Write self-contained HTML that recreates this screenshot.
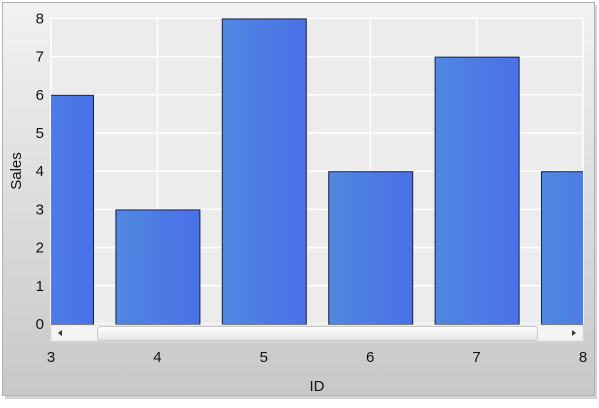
<!DOCTYPE html>
<html><head><meta charset="utf-8"><style>
body{margin:0;width:599px;height:403px;overflow:hidden;background:#fff;font-family:"Liberation Sans",sans-serif}
</style></head><body>
<svg width="599" height="403">
<defs>
<linearGradient id="bg" x1="0" y1="0" x2="0" y2="1"><stop offset="0" stop-color="#f2f2f2"/><stop offset="1" stop-color="#c8c8c8"/></linearGradient>
<linearGradient id="bar" x1="0" y1="0" x2="1" y2="0"><stop offset="0" stop-color="#5088e0"/><stop offset="1" stop-color="#4a70e8"/></linearGradient>
<linearGradient id="thumb" x1="0" y1="0" x2="0" y2="1"><stop offset="0" stop-color="#fff"/><stop offset="1" stop-color="#e4e4e4"/></linearGradient>
<clipPath id="pc"><rect x="51" y="10" width="532" height="315"/></clipPath>
</defs>
<rect x="5" y="5" width="592" height="394" fill="#aaa" opacity="0.5"/>
<rect x="2.5" y="2.5" width="592" height="393" fill="url(#bg)" stroke="#b0b0b0"/>
<rect x="51" y="18" width="532" height="306" fill="#ececec"/>
<g id="grid"></g>
<g id="bars" clip-path="url(#pc)"></g>
<g id="axes"></g>
<g>
<rect x="51" y="325" width="532" height="16" fill="#f4f4f4" stroke="#ddd"/>
<path d="M58 333 l4 -3 v6 z" fill="#333"/>
<path d="M576 333 l-4 -3 v6 z" fill="#333"/>
<rect x="97.5" y="326.5" width="440" height="14" rx="3" fill="url(#thumb)" stroke="#c8c8c8"/>
</g>
<text x="317" y="391" font-size="15" text-anchor="middle" fill="#111">ID</text>
<text x="21" y="171" font-size="15" text-anchor="middle" fill="#111" transform="rotate(-90 21 171)">Sales</text>
</svg>
<script>
const categories=[3,4,5,6,7,8];
const sales=[6,3,8,4,7,4];
const yTicks=[0,1,2,3,4,5,6,7,8];
const xTicks=[3,4,5,6,7,8];
const NS="http://www.w3.org/2000/svg";
const x=v=>51+(v-3)*106.4;
const y=v=>324-v*38.2;
function mk(t,a,p){const e=document.createElementNS(NS,t);for(const k in a)e.setAttribute(k,a[k]);p.appendChild(e);return e;}
const grid=document.getElementById('grid'),bars=document.getElementById('bars'),axes=document.getElementById('axes');
yTicks.forEach(t=>{
 const l=mk('line',{x1:51,x2:583,y1:y(t),y2:y(t),stroke:'#fff','stroke-width':1.5},grid);
 
 
 const tx=mk('text',{x:44,y:y(t)+5,'font-size':15,'text-anchor':'end',fill:'#111'},axes);
 tx.textContent=t;
 
 
});
xTicks.forEach(t=>{
 const l=mk('line',{x1:x(t),x2:x(t),y1:18,y2:324,stroke:'#fff','stroke-width':1.5},grid);
 
 
 const tx=mk('text',{x:x(t),y:362,'font-size':15,'text-anchor':'middle',fill:'#111'},axes);
 tx.textContent=t;
 
 
});
categories.forEach((c,i)=>{
 const w=84;
 const r=mk('rect',{x:x(c)-w/2+0.5,y:y(sales[i])+0.5,width:w,height:y(0)-y(sales[i]),fill:'url(#bar)',stroke:'#1a2040','stroke-width':1},bars);
 
 
});
</script>
</body></html>
